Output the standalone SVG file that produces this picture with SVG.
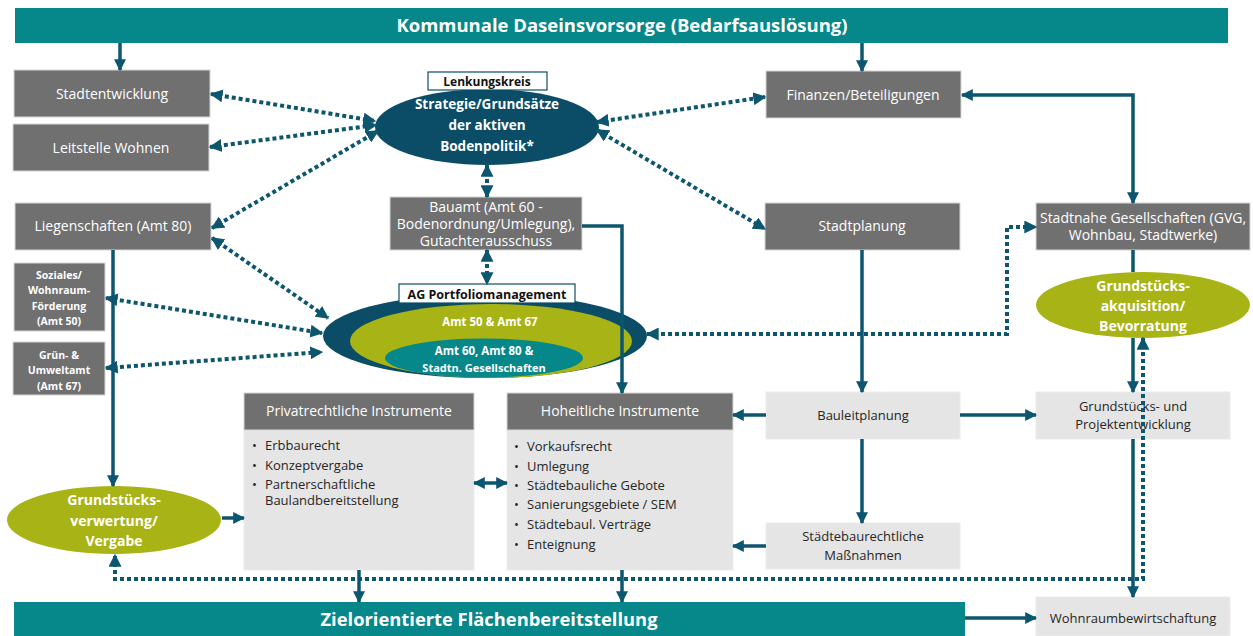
<svg xmlns="http://www.w3.org/2000/svg" width="1253" height="636" viewBox="0 0 1253 636">
<defs>
<marker id="ah" viewBox="0 0 10 10" refX="9" refY="5" markerWidth="12" markerHeight="12" markerUnits="userSpaceOnUse" orient="auto-start-reverse"><path d="M0,0 L10,5 L0,10 z" fill="#0D5670"/></marker>
<marker id="ad" viewBox="0 0 10 10" refX="9" refY="5" markerWidth="13" markerHeight="13" markerUnits="userSpaceOnUse" orient="auto-start-reverse"><path d="M0,0 L10,5 L0,10 z" fill="#0D5670"/></marker>
</defs>
<style>
text{font-family:"Open Sans","Liberation Sans",sans-serif;text-anchor:middle}
.bar{fill:#06878A}
.gb{fill:#707070;stroke:#d6d6d6;stroke-width:1}
.lb{fill:#E5E5E5;stroke:#ececec;stroke-width:1}
.wt{fill:#fff;font-size:14px}
.dt{fill:#262626;font-size:13px}
.bw{fill:#fff;font-weight:bold}
.s{fill:none;stroke:#0D5670;stroke-width:3.5;marker-end:url(#ah)}
.s2{marker-start:url(#ah)}
.d{fill:none;stroke:#0D5670;stroke-width:4;stroke-dasharray:4 3;marker-start:url(#ad);marker-end:url(#ad)}
.bl{fill:#262626;font-size:13px;text-anchor:start}
</style>

<g id="top-bar"><rect class="bar" x="15" y="8" width="1213" height="35"/><text class="bw" x="622" y="32" font-size="18" textLength="451" lengthAdjust="spacingAndGlyphs">Kommunale Daseinsvorsorge (Bedarfsauslösung)</text></g>
<g id="bottom-bar"><rect class="bar" x="14" y="602" width="951" height="34"/><text class="bw" x="489" y="626" font-size="18" textLength="337" lengthAdjust="spacingAndGlyphs">Zielorientierte Flächenbereitstellung</text></g>

<g id="stadtentwicklung"><rect class="gb" x="14" y="70" width="196" height="47"/><text class="wt" x="112" y="99">Stadtentwicklung</text></g>
<g id="leitstelle"><rect class="gb" x="13" y="124" width="196" height="47"/><text class="wt" x="111" y="153">Leitstelle Wohnen</text></g>
<g id="liegenschaften"><rect class="gb" x="15" y="203" width="196" height="47"/><text class="wt" x="113" y="231">Liegenschaften (Amt 80)</text></g>
<g id="soziales"><rect class="gb" x="14" y="263" width="91" height="68"/>
<text class="bw" font-size="10.5" x="59" y="279">Soziales/</text><text class="bw" font-size="10.5" x="59" y="294">Wohnraum-</text><text class="bw" font-size="10.5" x="59" y="310">Förderung</text><text class="bw" font-size="10.5" x="59" y="325">(Amt 50)</text></g>
<g id="gruen"><rect class="gb" x="13" y="342" width="92" height="53"/>
<text class="bw" font-size="10.5" x="59" y="359">Grün- &amp;</text><text class="bw" font-size="10.5" x="59" y="374">Umweltamt</text><text class="bw" font-size="10.5" x="59" y="390">(Amt 67)</text></g>

<g id="lenkungskreis"><ellipse cx="487" cy="127" rx="112" ry="38" fill="#0B4D66"/>
<rect x="428" y="72" width="119" height="18" fill="#fff" stroke="#0B4D66" stroke-width="1.2"/>
<text x="487" y="86" font-size="12" font-weight="bold" fill="#111">Lenkungskreis</text>
<text class="bw" font-size="13.5" x="487" y="109">Strategie/Grundsätze</text><text class="bw" font-size="13.5" x="487" y="130">der aktiven</text><text class="bw" font-size="13.5" x="487" y="151">Bodenpolitik*</text></g>

<g id="finanzen"><rect class="gb" x="766" y="71" width="195" height="47"/><text class="wt" x="863" y="100">Finanzen/Beteiligungen</text></g>
<g id="stadtplanung"><rect class="gb" x="765" y="203" width="195" height="47"/><text class="wt" x="862" y="231">Stadtplanung</text></g>
<g id="stadtnahe"><rect class="gb" x="1036" y="203" width="214" height="47"/><text class="wt" font-size="11.5" x="1143" y="223">Stadtnahe Gesellschaften (GVG,</text><text class="wt" font-size="11.5" x="1143" y="240">Wohnbau, Stadtwerke)</text></g>

<g id="bauamt"><rect class="gb" x="390" y="197" width="192" height="53"/>
<text class="wt" font-size="12" x="486" y="212">Bauamt (Amt 60 -</text><text class="wt" font-size="12" x="486" y="229">Bodenordnung/Umlegung),</text><text class="wt" font-size="12" x="486" y="246">Gutachterausschuss</text></g>

<g id="ag-portfolio"><ellipse cx="485" cy="336" rx="162" ry="42" fill="#0B4D66"/>
<ellipse cx="491" cy="341" rx="141" ry="37" fill="#A8B315"/>
<ellipse cx="484" cy="358" rx="99" ry="19.5" fill="#06878A"/>
<rect x="399" y="284" width="176" height="19" fill="#fff" stroke="#0B4D66" stroke-width="1.2"/>
<text x="487" y="299" font-size="12.5" font-weight="bold" fill="#111">AG Portfoliomanagement</text>
<text class="bw" font-size="11.5" x="490" y="326">Amt 50 &amp; Amt 67</text>
<text class="bw" font-size="11.5" x="484" y="355">Amt 60, Amt 80 &amp;</text><text class="bw" font-size="11" x="484" y="372">Stadtn. Gesellschaften</text></g>

<g id="akquisition"><ellipse cx="1143" cy="305" rx="107" ry="33" fill="#A8B315"/>
<text class="bw" font-size="14" x="1143" y="291">Grundstücks-</text><text class="bw" font-size="14" x="1143" y="311">akquisition/</text><text class="bw" font-size="14" x="1143" y="331">Bevorratung</text></g>

<g id="verwertung"><ellipse cx="114" cy="520" rx="107" ry="34" fill="#A8B315"/>
<text class="bw" font-size="14" x="114" y="505">Grundstücks-</text><text class="bw" font-size="14" x="114" y="526">verwertung/</text><text class="bw" font-size="14" x="114" y="546">Vergabe</text></g>

<g id="privatrechtlich"><rect class="lb" x="244" y="430" width="230" height="140"/><rect class="gb" x="244" y="393" width="230" height="37"/>
<text class="wt" font-size="12.5" x="359" y="416">Privatrechtliche Instrumente</text>
<text class="bl" x="252" y="450">•</text><text class="bl" x="265" y="450">Erbbaurecht</text>
<text class="bl" x="252" y="470">•</text><text class="bl" x="265" y="470">Konzeptvergabe</text>
<text class="bl" x="252" y="489">•</text><text class="bl" x="265" y="489">Partnerschaftliche</text>
<text class="bl" x="265" y="505">Baulandbereitstellung</text></g>

<g id="hoheitlich"><rect class="lb" x="507" y="430" width="226" height="140"/><rect class="gb" x="507" y="393" width="226" height="37"/>
<text class="wt" font-size="12.5" x="620" y="416">Hoheitliche Instrumente</text>
<text class="bl" x="514" y="451">•</text><text class="bl" x="527" y="451">Vorkaufsrecht</text>
<text class="bl" x="514" y="471">•</text><text class="bl" x="527" y="471">Umlegung</text>
<text class="bl" x="514" y="490">•</text><text class="bl" x="527" y="490">Städtebauliche Gebote</text>
<text class="bl" x="514" y="509">•</text><text class="bl" x="527" y="509">Sanierungsgebiete / SEM</text>
<text class="bl" x="514" y="529">•</text><text class="bl" x="527" y="529">Städtebaul. Verträge</text>
<text class="bl" x="514" y="549">•</text><text class="bl" x="527" y="549">Enteignung</text></g>

<g id="bauleitplanung"><rect class="lb" x="766" y="392" width="194" height="47"/><text class="dt" x="863" y="420">Bauleitplanung</text></g>
<g id="staedtebau"><rect class="lb" x="766" y="523" width="194" height="46"/><text class="dt" x="863" y="541">Städtebaurechtliche</text><text class="dt" x="863" y="560">Maßnahmen</text></g>
<g id="projektentwicklung"><rect class="lb" x="1036" y="392" width="194" height="47"/><text class="dt" x="1133" y="411">Grundstücks- und</text><text class="dt" x="1133" y="429">Projektentwicklung</text></g>
<g id="wohnraum"><rect class="lb" x="1036" y="597" width="194" height="39"/><text class="dt" font-size="13.5" x="1133" y="623">Wohnraumbewirtschaftung</text></g>

<g id="connectors">
<path class="s" d="M120,43 V70"/>
<path class="s" d="M862,43 V71"/>
<path class="s s2" d="M962,95 H1133 V203"/>
<path class="s" d="M582,226 H622 V393"/>
<path class="s" d="M862,250 V392"/>
<path class="s" d="M113,250 V486"/>
<path class="s" style="marker-end:none" d="M1133,250 V272"/>
<path class="s" d="M1133,338 V392"/>
<path class="s" d="M1133,439 V597"/>
<path class="s" d="M766,415 H733"/>
<path class="s" d="M960,415 H1036"/>
<path class="s" d="M862,439 V523"/>
<path class="s" d="M766,546 H733"/>
<path class="s s2" d="M474,483 H507"/>
<path class="s" d="M222,518 H244"/>
<path class="s" d="M359,570 V602"/>
<path class="s" d="M622,570 V602"/>
<path class="s" d="M965,618 H1036"/>

<path class="d" d="M211,94 L375,121"/>
<path class="d" d="M210,147 L376,125"/>
<path class="d" d="M212,228 L378,131"/>
<path class="d" d="M597,122 L765,97"/>
<path class="d" d="M597,130 L765,229"/>
<path class="d" d="M487,165 V197"/>
<path class="d" d="M487,250 V284"/>
<path class="d" d="M212,238 L328,318"/>
<path class="d" d="M106,298 L322,333"/>
<path class="d" d="M106,368 L322,352"/>
<path class="d" d="M647,334 H1007 V227 H1036"/>
<path class="d" d="M1143,338 V579 H115 V555"/>
</g>
</svg>
